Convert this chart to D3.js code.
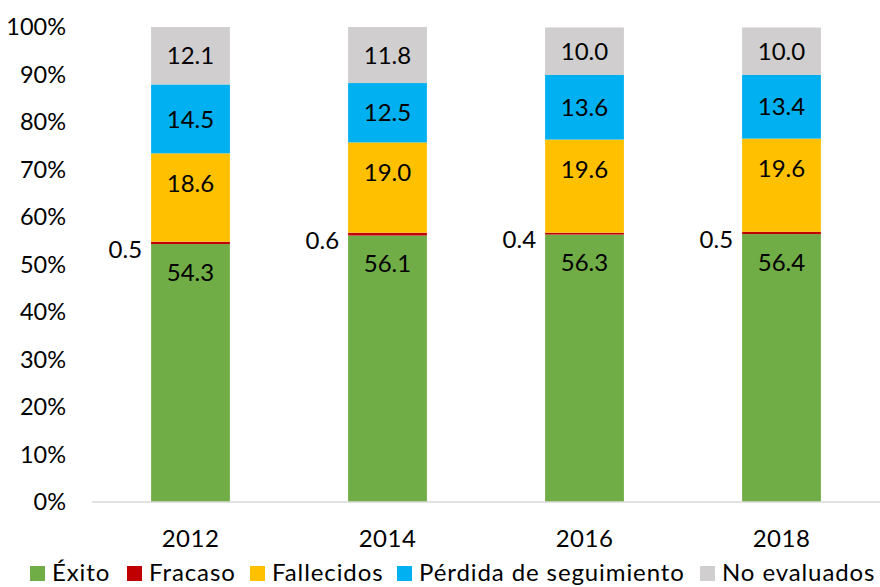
<!DOCTYPE html>
<html><head><meta charset="utf-8">
<script src="https://cdn.jsdelivr.net/npm/d3@7"></script>
<style>body{margin:0;background:#fff;} text{font-family:Lato, "Open Sans", sans-serif;fill:#000;}</style>
</head><body><svg id="c" width="880" height="587"></svg>
<script>
const years = ["2012","2014","2016","2018"];
const seriesNames = ["Éxito","Fracaso","Fallecidos","Pérdida de seguimiento","No evaluados"];
const colors = ["#70ad47","#c00000","#ffc000","#00b0f0","#d0cece"];
const exito = [54.3,56.1,56.3,56.4];
const fracaso = [0.5,0.6,0.4,0.5];
const fallecidos = [18.6,19.0,19.6,19.6];
const perdida = [14.5,12.5,13.6,13.4];
const noEval = [12.1,11.8,10.0,10.0];
const yTicks = [0,10,20,30,40,50,60,70,80,90,100];

const svg = d3.select("#c");
const x = d3.scaleBand().domain(years).range([92,880]).paddingInner(0.6).paddingOuter(0.3);
const y = d3.scaleLinear().domain([0,100]).range([502,27]);
const values = [exito,fracaso,fallecidos,perdida,noEval];
const rows = years.map((yr,i)=>{const o={year:yr}; seriesNames.forEach((s,k)=>o[s]=values[k][i]); return o;});
const stack = d3.stack().keys(seriesNames)(rows);

stack.forEach((layer,k)=>{
  svg.append("g").selectAll("rect").data(layer).join("rect")
    .attr("x",d=>x(d.data.year)).attr("width",x.bandwidth())
    .attr("y",d=>y(d[1])).attr("height",d=>y(d[0])-y(d[1]))
    .attr("fill",colors[k]);
});
svg.append("line").attr("x1",92).attr("x2",880).attr("y1",y(0)).attr("y2",y(0)).attr("stroke","#d9d9d9").attr("stroke-width",1.5);

svg.append("g").selectAll("text").data(yTicks).join("text")
  .attr("x",66).attr("y",d=>y(d)).attr("dy","0.36em").attr("text-anchor","end")
  .attr("font-size",23.5).text(d=>d+"%");
svg.append("g").selectAll("text").data(years).join("text")
  .attr("x",d=>x(d)+x.bandwidth()/2).attr("y",547).attr("text-anchor","middle")
  .attr("font-size",24).attr("letter-spacing",0.5).text(d=>d);

const fmt = d3.format(".1f");
stack.forEach((layer,k)=>{
  const g = svg.append("g");
  layer.forEach(d=>{
    const v = d.data[seriesNames[k]];
    let lx = x(d.data.year)+x.bandwidth()/2, ly, anchor="middle";
    if(k===0){ ly = y(d[1])+28; }
    else if(k===1){ lx = x(d.data.year)-9; anchor="end"; ly = y((d[0]+d[1])/2)+6; }
    else if(k===2){ ly = y(d[1])+30; }
    else { ly = (y(d[0])+y(d[1]))/2; }
    g.append("text").attr("x",lx).attr("y",ly).attr("dy","0.36em").attr("text-anchor",anchor)
      .attr("font-size",24).text(fmt(v));
  });
});

const legendX = [30,127,250,397,700];
const lg = svg.append("g");
seriesNames.forEach((s,k)=>{
  lg.append("rect").attr("x",legendX[k]).attr("y",566).attr("width",15).attr("height",15).attr("fill",colors[k]);
  lg.append("text").attr("x",legendX[k]+22).attr("y",581).attr("font-size",24).attr("letter-spacing",0.9).text(s);
});
</script></body></html>
